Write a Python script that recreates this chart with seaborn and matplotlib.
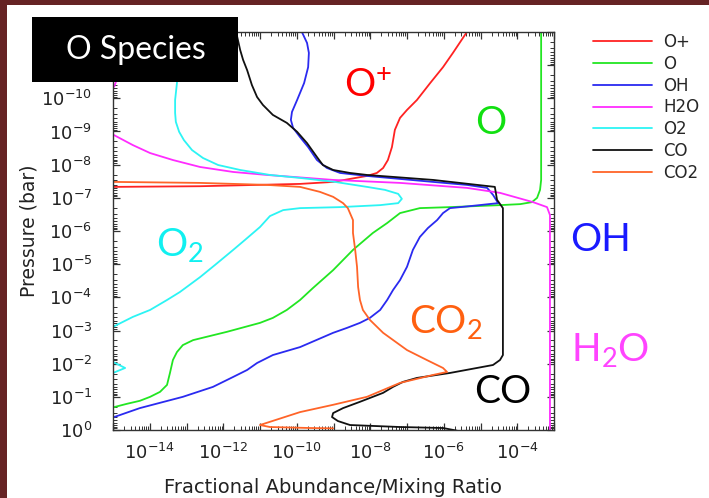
import matplotlib
matplotlib.use("Agg")
import matplotlib.pyplot as plt
import matplotlib.ticker as mticker
from matplotlib.patches import Rectangle
import numpy as np
import pandas as pd
import seaborn as sns


# ============================================================
# DATA  (log10 abundance, log10 pressure in bar)
# ============================================================

species = ["O+", "O", "OH", "H2O", "O2", "CO", "CO2"]
colors = ["#ff2222", "#22e622", "#2a2af0", "#ff2cff", "#2cf4f4", "#111111", "#ff6428"]

oplus_x = [-16, -14.97, -12.63, -9.91, -9.01, -8.55, -8.09, -7.82, -7.65, -7.52,
           -7.41, -7.33, -7.19, -7.0, -6.73, -6.37, -6.02, -5.75, -5.37]
oplus_p = [-7.33, -7.33, -7.35, -7.42, -7.48, -7.57, -7.66, -7.75, -7.90, -8.14,
           -8.53, -9.05, -9.41, -9.65, -9.95, -10.46, -10.94, -11.37, -12.0]

o_x = [-3.35, -3.35, -3.35, -3.38, -3.46, -3.60, -3.92, -4.47, -5.83, -6.65,
       -7.19, -7.54, -7.93, -8.47, -9.01, -9.56, -9.91, -10.27, -10.65, -11.0,
       -11.90, -12.82, -13.10, -13.26, -13.37, -13.45, -13.53, -13.72, -13.99, -14.27,
       -14.62, -14.97, -16]
o_p = [-12.0, -8.44, -7.54, -7.24, -7.0, -6.87, -6.81, -6.78, -6.72, -6.69,
       -6.54, -6.24, -5.94, -5.43, -4.82, -4.28, -3.92, -3.62, -3.38, -3.23,
       -2.96, -2.71, -2.56, -2.35, -2.11, -1.72, -1.36, -1.15, -1.0, -0.88,
       -0.79, -0.69, -0.45]

oh_x = [-9.86, -9.72, -9.67, -9.69, -9.80, -9.99, -10.13, -10.16, -10.10, -9.91,
        -9.69, -9.45, -9.18, -8.82, -8.09, -7.19, -6.29, -5.37, -4.82, -4.66,
        -4.52, -5.37, -5.83, -6.02, -6.18, -6.43, -6.65, -6.84, -7.0, -7.19,
        -7.38, -7.54, -7.73, -8.01, -8.28, -8.63, -9.01, -9.91, -10.65, -11.08,
        -11.35, -11.73, -12.28, -13.10, -13.72, -14.27, -14.97, -16]
oh_p = [-12.0, -11.67, -11.37, -10.94, -10.46, -9.95, -9.59, -9.35, -9.11, -8.83,
        -8.53, -8.14, -7.90, -7.75, -7.66, -7.57, -7.48, -7.39, -7.30, -7.09,
        -6.84, -6.74, -6.69, -6.54, -6.33, -6.09, -5.82, -5.43, -4.92, -4.52,
        -4.22, -3.92, -3.62, -3.38, -3.23, -3.08, -2.93, -2.50, -2.26, -2.02,
        -1.81, -1.60, -1.30, -1.0, -0.82, -0.66, -0.39, -0.10]

h2o_x = [-14.6, -14.85, -14.97, -16, -16, -14.97, -14.46, -13.99, -13.37, -12.63,
         -11.73, -10.81, -9.01, -7.19, -5.37, -4.47, -3.57, -3.19, -3.11, -3.11]
h2o_p = [-12.0, -10.70, -10.35, -10.0, -9.20, -8.89, -8.59, -8.35, -8.14, -7.93,
         -7.78, -7.69, -7.54, -7.45, -7.30, -7.15, -6.87, -6.72, -6.48, 0.0]

o2_x = [-13.2, -13.26, -13.31, -13.31, -13.29, -13.20, -13.07, -12.85, -12.55, -12.14,
        -11.54, -10.73, -9.91, -8.96, -8.09, -7.60, -7.24, -7.14, -7.24, -7.73,
        -8.82, -9.91, -10.37, -10.73, -11.0, -11.41, -11.73, -12.22, -12.63, -13.18,
        -13.53, -13.99, -14.46, -15.0, -16, -16, -15.0, -14.67, -15.0, -16,
        -16]
o2_p = [-12.0, -10.46, -9.95, -9.56, -9.29, -8.99, -8.74, -8.44, -8.20, -7.99,
        -7.84, -7.69, -7.60, -7.48, -7.33, -7.24, -7.12, -6.97, -6.84, -6.78,
        -6.72, -6.69, -6.63, -6.45, -6.12, -5.73, -5.43, -4.98, -4.61, -4.16,
        -3.92, -3.62, -3.41, -3.11, -2.87, -2.26, -2.05, -1.87, -1.72, -1.51,
        0.0]

co_x = [-11.65, -11.54, -11.46, -11.35, -11.22, -11.08, -10.92, -10.65, -10.27, -9.99,
        -9.72, -9.45, -9.29, -9.01, -8.55, -8.09, -6.29, -4.61, -4.55, -4.39,
        -4.39, -4.47, -4.66, -5.83, -6.73, -7.11, -7.38, -7.65, -8.28, -8.74,
        -9.01, -9.04, -8.88, -8.55, -7.19, -6.02, -5.64]
co_p = [-12.0, -11.46, -11.16, -10.85, -10.40, -10.04, -9.80, -9.50, -9.26, -8.99,
        -8.65, -8.23, -7.99, -7.84, -7.75, -7.69, -7.54, -7.33, -6.94, -6.69,
        -2.26, -2.11, -1.96, -1.72, -1.57, -1.45, -1.30, -1.12, -0.85, -0.66,
        -0.51, -0.39, -0.27, -0.15, -0.09, -0.06, 0.02]

co2_x = [-16, -14.97, -12.63, -10.81, -9.91, -9.37, -9.01, -8.74, -8.61, -8.47,
         -8.47, -8.41, -8.36, -8.33, -8.28, -8.20, -8.01, -7.65, -7.0, -6.46,
         -6.02, -5.91, -6.29, -7.19, -8.09, -9.01, -9.91, -11.0, -10.73, -9.64,
         -9.01]
co2_p = [-7.53, -7.48, -7.45, -7.39, -7.33, -7.18, -7.03, -6.84, -6.69, -6.33,
         -5.94, -5.43, -4.92, -4.31, -3.92, -3.62, -3.32, -2.93, -2.41, -2.11,
         -1.87, -1.75, -1.66, -1.42, -1.0, -0.76, -0.54, -0.15, -0.09, -0.06,
         -0.05]

all_x = [oplus_x, o_x, oh_x, h2o_x, o2_x, co_x, co2_x]
all_p = [oplus_p, o_p, oh_p, h2o_p, o2_p, co_p, co2_p]

frames = []
for name, lx, lp in zip(species, all_x, all_p):
    frames.append(pd.DataFrame({
        "species": name,
        "abundance": 10.0 ** np.array(lx),
        "pressure": 10.0 ** np.array(lp),
    }))
df = pd.concat(frames, ignore_index=True)


# ============================================================
# FIGURE
# ============================================================

W, H = 709, 498

sns.set_style("ticks")
plt.rcParams["font.family"] = ["DejaVu Sans"]

fig = plt.figure(figsize=(W / 100, H / 100), dpi=100, facecolor="#662324")
fig.patches.append(Rectangle((7 / W, 0), 1, (H - 5) / H, transform=fig.transFigure,
                             facecolor="white", edgecolor="none", zorder=-5))

ax = fig.add_axes([113 / W, (H - 430) / H, 441 / W, 398 / H])
ax.set_xscale("log")
ax.set_yscale("log")

sns.lineplot(
    data=df,
    x="abundance",
    y="pressure",
    hue="species",
    hue_order=species,
    palette=colors,
    sort=False,
    estimator=None,
    linewidth=1.3,
    ax=ax
)
for line in ax.get_lines():
    line.set_solid_joinstyle("round")

ax.set_xlim(1e-15, 1e-3)
ax.set_ylim(1e0, 1e-12)


def even_decades(val, pos):
    e = int(round(np.log10(val)))
    return r"$\mathdefault{10^{%d}}$" % e if e % 2 == 0 else ""


def visible_decades(val, pos):
    # 1e-11 and 1e-12 sit under the title box
    e = int(round(np.log10(val)))
    return r"$\mathdefault{10^{%d}}$" % e if e >= -10 else ""


ax.xaxis.set_major_locator(mticker.LogLocator(base=10, numticks=30))
ax.xaxis.set_major_formatter(mticker.FuncFormatter(even_decades))
ax.yaxis.set_major_locator(mticker.LogLocator(base=10, numticks=30))
ax.yaxis.set_major_formatter(mticker.FuncFormatter(visible_decades))
for axis in (ax.xaxis, ax.yaxis):
    axis.set_minor_locator(mticker.LogLocator(base=10, subs=np.arange(2, 10), numticks=200))
    axis.set_minor_formatter(mticker.NullFormatter())

ax.tick_params(which="both", direction="in", top=True, right=True, color="#333333")
ax.tick_params(which="major", length=5, width=0.9, labelsize=13, labelcolor="#222222")
ax.tick_params(which="minor", length=3, width=0.7)
ax.tick_params(axis="x", pad=9)
ax.tick_params(axis="y", pad=15)
for s in ax.spines.values():
    s.set_color("#333333")
    s.set_linewidth(1.0)

ax.set_xlabel("Fractional Abundance/Mixing Ratio", fontsize=14, color="#222222")
ax.set_ylabel("Pressure (bar)", fontsize=13.5, color="#222222")
ax.xaxis.set_label_coords(0.5, -0.12)
ax.yaxis.set_label_coords(-0.168, 0.5)

handles, labels = ax.get_legend_handles_labels()
ax.legend(
    handles, labels,
    loc="upper left",
    bbox_to_anchor=(593 / W, 1 - 33 / H),
    bbox_transform=fig.transFigure,
    frameon=False,
    fontsize=12,
    handlelength=3.55,
    handletextpad=0.66,
    labelspacing=0.23,
    borderpad=0,
    borderaxespad=0,
)


# ============================================================
# SLIDE ANNOTATIONS
# ============================================================

def px_text(x, y, s, color, size=28, **kw):
    fig.text(x / W, 1 - y / H, s, color=color, fontsize=size, family=["Lato", "DejaVu Sans"],
             ha="center", va="center", zorder=11, **kw)


fig.patches.append(Rectangle((32 / W, 1 - 82 / H), 206 / W, 65 / H, transform=fig.transFigure,
                             facecolor="black", edgecolor="none", zorder=10))
px_text(136, 50, "O Species", "white", size=23)

px_text(368, 86, r"$\mathregular{O^{+}}$", "#ff0000")
px_text(491, 123, "O", "#11e011")
px_text(180, 245, r"$\mathregular{O_2}$", "#11f0f0")
px_text(601, 240, "OH", "#1a1aff")
px_text(446, 322, r"$\mathregular{CO_2}$", "#ff6010")
px_text(610, 350, r"$\mathregular{H_2O}$", "#ff44ff")
px_text(503, 392, "CO", "black")

fig.savefig("out.png", dpi=100, facecolor=fig.get_facecolor())
plt.close(fig)
